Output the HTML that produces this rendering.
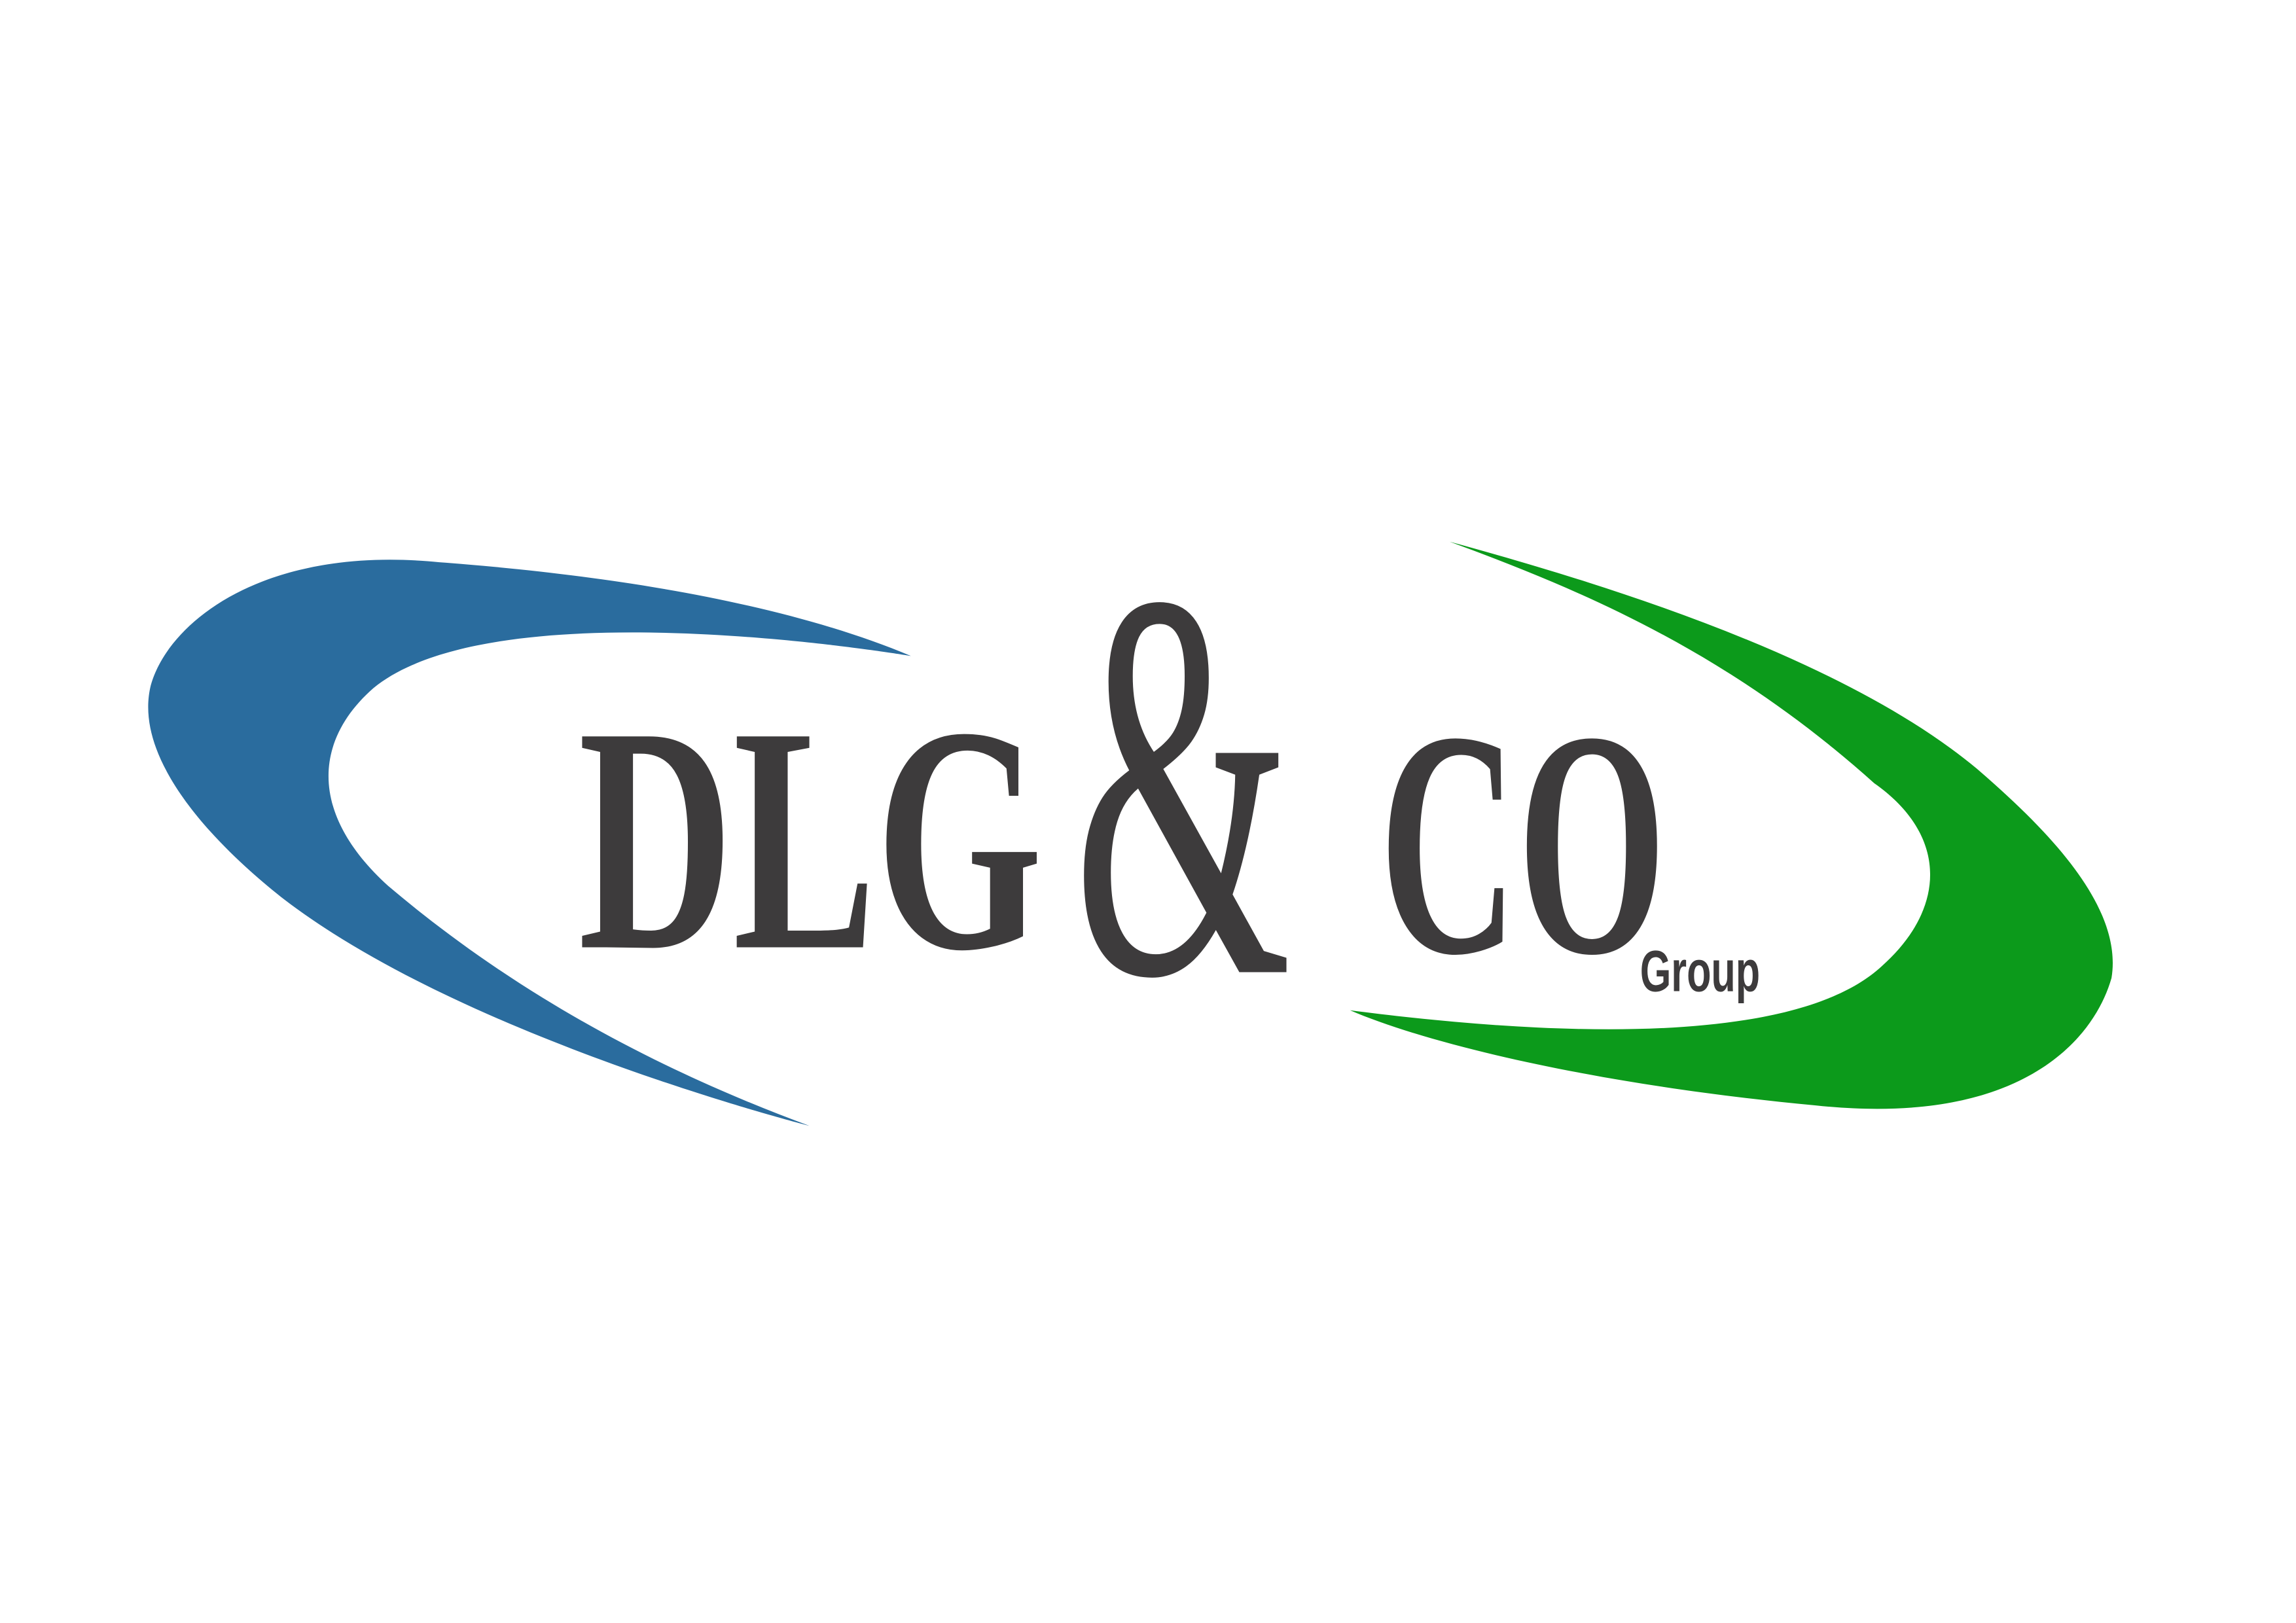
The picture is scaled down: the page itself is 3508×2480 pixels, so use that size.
<!DOCTYPE html>
<html><head><meta charset="utf-8"><style>html,body{margin:0;padding:0;background:#fff}svg{display:block}</style></head>
<body>
<svg width="3508" height="2480" viewBox="0 0 1568 1108.5" xmlns="http://www.w3.org/2000/svg">
<rect width="1568" height="1108.5" fill="#fff"/>
<path fill="#2a6c9e" d="M622,448 C520,405 380,390 300,384 C180,372 115,425 103,468 C90,520 150,580 195,615 C320,710 553,769 553,769 C420,720 330,660 265,605 C210,555 215,505 255,470 C340,400 622,448 622,448 Z"/>
<path fill="#0c9a1b" d="M990,370 C1100,400 1260,450 1350,525 C1400,568 1450,620 1442,668 C1430,710 1380,770 1240,755 C1100,742 980,715 922,690 C1030,704 1220,720 1285,660 C1330,620 1330,570 1280,535 C1180,445 1080,403 990,370 Z"/>
<g fill="#3d3b3c" font-family="Liberation Serif, serif">
<text x="395" y="647" font-size="220" font-weight="bold" textLength="317" lengthAdjust="spacingAndGlyphs">DLG</text>
<text x="733" y="664" font-size="380" textLength="149" lengthAdjust="spacingAndGlyphs">&amp;</text>
<text x="942" y="650" font-size="220" font-weight="bold" textLength="196" lengthAdjust="spacingAndGlyphs">CO</text>
<text x="1120" y="677" font-size="40" font-weight="bold" font-family="Liberation Sans, sans-serif" textLength="82" lengthAdjust="spacingAndGlyphs">Group</text>
</g>
</svg>
</body></html>
